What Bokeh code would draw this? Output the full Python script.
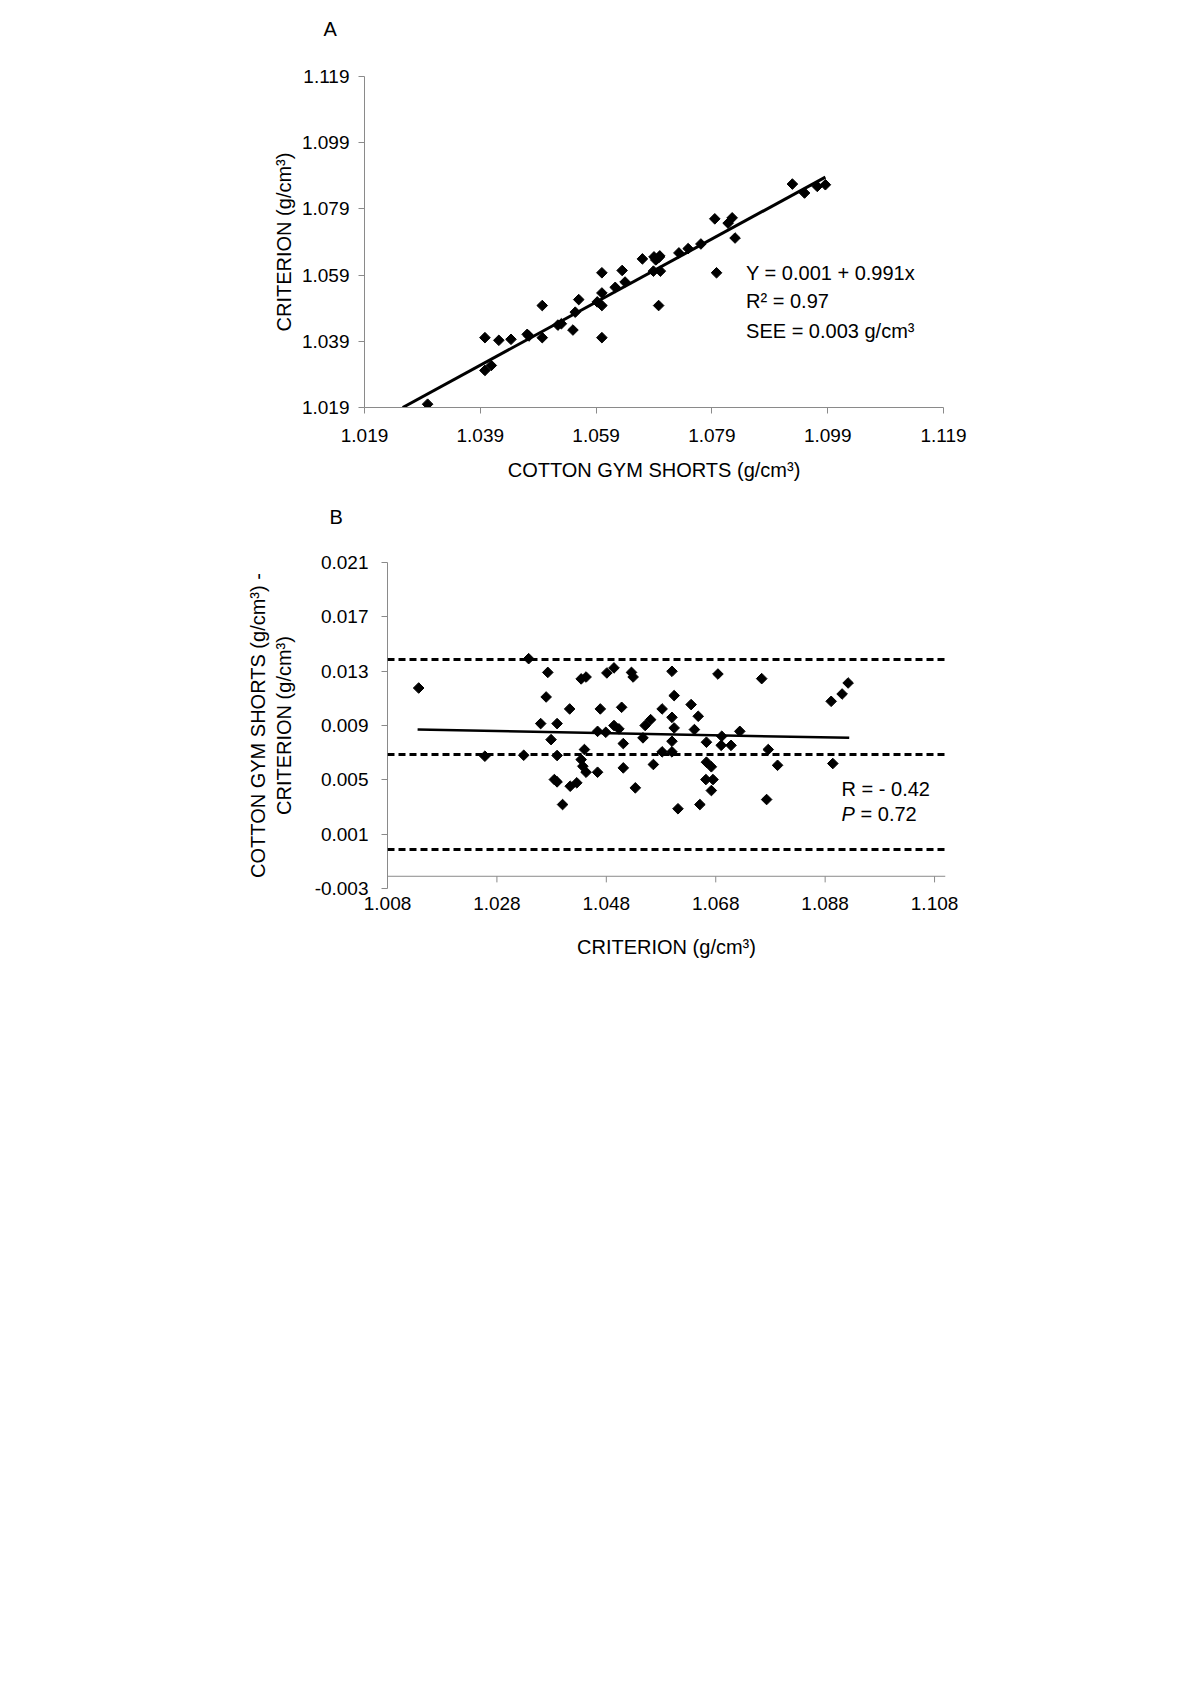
import numpy as np
from bokeh.plotting import figure
from bokeh.models import FixedTicker, PrintfTickFormatter, Span, Label, LinearAxis
from bokeh.embed import file_html
from bokeh.resources import INLINE

# ---------------- Panel A data ----------------
a_cotton = [1.0299, 1.0398, 1.0398, 1.0409, 1.0422, 1.0443, 1.0471, 1.0474, 1.0497, 1.0497,
            1.0524, 1.0530, 1.0550, 1.0554, 1.0560, 1.0592, 1.0600, 1.0600, 1.0600, 1.0600,
            1.0623, 1.0635, 1.0640, 1.0670, 1.0689, 1.0701, 1.0698, 1.0690, 1.0696, 1.0700,
            1.0693, 1.0699, 1.0733, 1.0749, 1.0771, 1.0795, 1.0798, 1.0818, 1.0825, 1.0830,
            1.0929, 1.0950, 1.0972, 1.0986]
a_criterion = [1.0200, 1.0401, 1.0302, 1.0317, 1.0393, 1.0396, 1.0411, 1.0406, 1.0498, 1.0401,
               1.0439, 1.0443, 1.0424, 1.0478, 1.0516, 1.0509, 1.0498, 1.0536, 1.0597, 1.0401,
               1.0553, 1.0604, 1.0569, 1.0639, 1.0602, 1.0602, 1.0498, 1.0645, 1.0640, 1.0648,
               1.0636, 1.0644, 1.0657, 1.0670, 1.0684, 1.0760, 1.0597, 1.0747, 1.0763, 1.0702,
               1.0865, 1.0838, 1.0858, 1.0863]
a_fit_x = [1.0256, 1.0986]
a_fit_y = [1.0190, 1.0886]
a_ticks = [1.019, 1.039, 1.059, 1.079, 1.099, 1.119]

# ---------------- Panel B data ----------------
b_criterion = [1.0137, 1.0258, 1.0329, 1.0338, 1.0373, 1.0370, 1.0360, 1.0390, 1.0379, 1.0390,
               1.0385, 1.0390, 1.0413, 1.0400, 1.0414, 1.0426, 1.0434, 1.0443, 1.0440, 1.0434,
               1.0437, 1.0443, 1.0464, 1.0469, 1.0464, 1.0479, 1.0481, 1.0494, 1.0494, 1.0503,
               1.0508, 1.0511, 1.0511, 1.0526, 1.0529, 1.0533, 1.0547, 1.0551, 1.0561, 1.0566,
               1.0582, 1.0582, 1.0600, 1.0600, 1.0604, 1.0600, 1.0604, 1.0600, 1.0611, 1.0635,
               1.0648, 1.0641, 1.0651, 1.0663, 1.0663, 1.0672, 1.0662, 1.0675, 1.0672, 1.0684,
               1.0691, 1.0690, 1.0708, 1.0724, 1.0764, 1.0773, 1.0776, 1.0793, 1.0891, 1.0894,
               1.0911, 1.0922]
b_diff = [0.01176, 0.00674, 0.00681, 0.01392, 0.01291, 0.01110, 0.00914, 0.00914, 0.00796, 0.00679,
          0.00502, 0.00485, 0.01022, 0.00318, 0.00453, 0.00478, 0.01243, 0.01257, 0.00723, 0.00649,
          0.00600, 0.00556, 0.00556, 0.01022, 0.00857, 0.00850, 0.01287, 0.01324, 0.00900, 0.00875,
          0.01034, 0.00767, 0.00588, 0.01291, 0.01257, 0.00441, 0.00809, 0.00900, 0.00943, 0.00613,
          0.01022, 0.00706, 0.00706, 0.01299, 0.01120, 0.00960, 0.00882, 0.00784, 0.00287, 0.01054,
          0.00968, 0.00870, 0.00318, 0.00777, 0.00630, 0.00596, 0.00502, 0.00502, 0.00421, 0.01279,
          0.00821, 0.00754, 0.00754, 0.00857, 0.01245, 0.00355, 0.00723, 0.00607, 0.01078, 0.00620,
          0.01132, 0.01213]
b_fit_x = [1.0135, 1.0924]
b_fit_y = [0.00870, 0.00809]
b_limits = [0.01385, 0.00686, -0.00013]
b_xticks = [1.008, 1.028, 1.048, 1.068, 1.088, 1.108]
b_yticks = [-0.003, 0.001, 0.005, 0.009, 0.013, 0.017, 0.021]
b_xaxis_at = -0.0021

FONT = "Liberation Sans"
FS = "20px"
TFS = "19px"
GRAY = "#8a8a8a"


def style_axis(ax, ticks, standoff, label_standoff):
    ax.ticker = FixedTicker(ticks=ticks)
    ax.formatter = PrintfTickFormatter(format="%.3f")
    ax.minor_tick_line_color = None
    ax.axis_line_color = GRAY
    ax.major_tick_line_color = GRAY
    ax.major_tick_in = 0
    ax.major_tick_out = 6
    ax.major_label_standoff = standoff
    ax.major_label_text_font = FONT
    ax.major_label_text_font_size = TFS
    ax.major_label_text_color = "black"
    ax.axis_label_text_font = FONT
    ax.axis_label_text_font_size = FS
    ax.axis_label_text_font_style = "normal"
    ax.axis_label_text_color = "black"
    ax.axis_label_standoff = label_standoff


def style_title(p, text, offset, standoff, line_height):
    p.title.text = text
    p.title.align = "left"
    p.title.offset = offset
    p.title.standoff = standoff
    p.title.text_font = FONT
    p.title.text_font_size = FS
    p.title.text_font_style = "normal"
    p.title.text_color = "black"
    p.title.text_line_height = line_height


# ---------------- Figure A ----------------
pa = figure(frame_width=579, frame_height=331, x_range=(1.019, 1.119), y_range=(1.019, 1.119),
            output_backend="svg", toolbar_location=None,
            min_border_left=364, min_border_top=76, min_border_bottom=89, min_border_right=100)
pa.xgrid.visible = False
pa.ygrid.visible = False
pa.outline_line_color = None
pa.background_fill_color = "white"
pa.border_fill_color = "white"
style_title(pa, "A\n", -41, 27, 1.05)
pa.xaxis.axis_label = "COTTON GYM SHORTS (g/cm³)"
pa.yaxis.axis_label = "CRITERION (g/cm³)"
style_axis(pa.xaxis[0], a_ticks, 15, 14)
style_axis(pa.yaxis[0], a_ticks, 9, 4)

pa.line(a_fit_x, a_fit_y, line_color="black", line_width=3)
pa.scatter(a_cotton, a_criterion, marker="square", angle=np.pi / 4, size=7.5,
           fill_color="black", line_color="black")

for txt, yy in [("Y = 0.001 + 0.991x", 1.0596), ("R² = 0.97", 1.0511), ("SEE = 0.003 g/cm³", 1.0422)]:
    pa.add_layout(Label(x=1.0849, y=yy, text=txt, text_font=FONT, text_font_size=FS,
                        text_baseline="middle", text_align="left", text_color="black"))

# ---------------- Figure B ----------------
pb = figure(frame_width=558, frame_height=326, x_range=(1.008, 1.110), y_range=(-0.003, 0.021),
            output_backend="svg", toolbar_location=None,
            min_border_left=387, min_border_top=66, min_border_bottom=80, min_border_right=100)
pb.xgrid.visible = False
pb.ygrid.visible = False
pb.outline_line_color = None
pb.background_fill_color = "white"
pb.border_fill_color = "white"
style_title(pb, "B\n", -58, 0, 1.55)
pb.xaxis.axis_label = "CRITERION (g/cm³)"
pb.yaxis.axis_label = "CRITERION (g/cm³)"
style_axis(pb.xaxis[0], b_xticks, 8, 23)
pb.xaxis[0].axis_line_color = None
pb.xaxis[0].major_tick_line_color = None
pb.xaxis[0].major_tick_out = 0
style_axis(pb.yaxis[0], b_yticks, 13, 17)

outer = LinearAxis(axis_label="COTTON GYM SHORTS (g/cm³) -", ticker=FixedTicker(ticks=[]))
outer.axis_line_color = None
outer.major_tick_line_color = None
outer.minor_tick_line_color = None
outer.major_tick_out = 0
outer.major_tick_in = 0
outer.major_label_standoff = 0
outer.axis_label_text_font = FONT
outer.axis_label_text_font_size = FS
outer.axis_label_text_font_style = "normal"
outer.axis_label_text_color = "black"
outer.axis_label_standoff = 1
pb.add_layout(outer, "left")

# horizontal axis line crossing above the minimum
pb.add_layout(Span(location=b_xaxis_at, dimension="width", line_color=GRAY, line_width=1))
pb.segment(x0=b_xticks, y0=[b_xaxis_at] * len(b_xticks), x1=b_xticks,
           y1=[b_xaxis_at - 0.00045] * len(b_xticks), line_color=GRAY, line_width=1)

for lv in b_limits:
    pb.add_layout(Span(location=lv, dimension="width", line_color="black", line_width=3,
                       line_dash="7 4"))
pb.line(b_fit_x, b_fit_y, line_color="black", line_width=2.5)
pb.scatter(b_criterion, b_diff, marker="square", angle=np.pi / 4, size=7.5,
           fill_color="black", line_color="black")

pb.add_layout(Label(x=1.0910, y=0.00436, text="R = - 0.42", text_font=FONT, text_font_size=FS,
                    text_baseline="middle", text_align="left", text_color="black"))
pb.add_layout(Label(x=1.0910, y=0.00252, text="P", text_font=FONT, text_font_size=FS,
                    text_font_style="italic", text_baseline="middle", text_align="left",
                    text_color="black"))
pb.add_layout(Label(x=1.0910, y=0.00252, x_offset=19, text="= 0.72", text_font=FONT,
                    text_font_size=FS, text_baseline="middle", text_align="left",
                    text_color="black"))

open("out.html", "w").write(file_html([pa, pb], INLINE))
